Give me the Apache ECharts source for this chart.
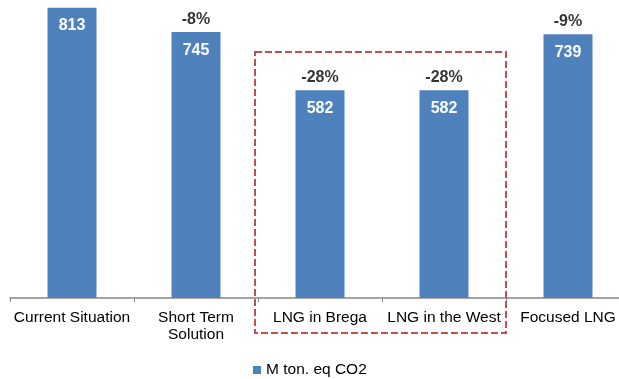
<!DOCTYPE html>
<html>
<head>
<meta charset="utf-8">
<script src="https://cdn.jsdelivr.net/npm/echarts@6/dist/echarts.min.js"></script>
<style>
  html, body { margin: 0; padding: 0; background: #fff; overflow: hidden; }
  /* the plot runs slightly past the right edge of the view */
  #chart { width: 640px; height: 379px; }
</style>
</head>
<body>
<div id="chart"></div>
<script>
// Emissions per scenario (M ton. eq CO2) and change vs. the current situation
const categories = ['Current Situation', 'Short Term\nSolution', 'LNG in Brega', 'LNG in the West', 'Focused LNG'];
const emissions = [813, 745, 582, 582, 739];
const changeLabels = ['', '-8%', '-28%', '-28%', '-9%'];
const seriesName = 'M ton. eq CO2';

const FONT = '"Liberation Sans", Arial, sans-serif';
const chart = echarts.init(document.getElementById('chart'));

chart.setOption({
  animation: false,
  textStyle: { fontFamily: FONT },
  grid: { left: 10, width: 620, top: 0, bottom: 81, containLabel: false },
  legend: {
    data: [seriesName],
    left: 248,
    top: 357,
    itemWidth: 8,
    itemHeight: 8,
    icon: 'rect',
    textStyle: { fontFamily: FONT, fontSize: 15.5, color: '#000' }
  },
  xAxis: {
    type: 'category',
    data: categories,
    axisLine: { lineStyle: { color: '#868686', width: 1.5 } },
    axisTick: { show: true, length: 4, lineStyle: { color: '#868686' } },
    axisLabel: {
      color: '#000',
      fontFamily: FONT,
      fontSize: 15.5,
      lineHeight: 17,
      margin: 11,
      interval: 0
    }
  },
  yAxis: {
    type: 'value',
    min: 0,
    max: 835,
    show: false,
    splitLine: { show: false }
  },
  series: [
    {
      name: seriesName,
      type: 'bar',
      data: emissions,
      barWidth: 49,
      itemStyle: { color: '#4f81bd' },
      label: {
        show: true,
        position: 'insideTop',
        distance: 10,
        color: '#fff',
        fontWeight: 'bold',
        fontSize: 16,
        fontFamily: FONT
      }
    },
    {
      // change labels sitting above each bar
      type: 'scatter',
      data: emissions,
      symbolSize: 0,
      silent: true,
      tooltip: { show: false },
      label: {
        show: true,
        position: 'top',
        distance: 5,
        color: '#000',
        fontWeight: 'bold',
        fontSize: 16,
        fontFamily: FONT,
        formatter: p => changeLabels[p.dataIndex]
      }
    }
  ]
});

// Dashed frame around the two LNG scenarios, placed from the category axis
const band = chart.convertToPixel({ xAxisIndex: 0 }, categories[3]) -
             chart.convertToPixel({ xAxisIndex: 0 }, categories[2]);
const frameLeft = chart.convertToPixel({ xAxisIndex: 0 }, categories[2]) - band / 2 - 3;
const frameRight = chart.convertToPixel({ xAxisIndex: 0 }, categories[3]) + band / 2;
chart.setOption({
  graphic: [{
    type: 'rect',
    shape: { x: frameLeft, y: 52, width: frameRight - frameLeft, height: 281 },
    style: {
      fill: 'none',
      stroke: '#c0504d',
      lineWidth: 2,
      lineDash: [7, 3]
    },
    z: 10
  }]
});
</script>
</body>
</html>
